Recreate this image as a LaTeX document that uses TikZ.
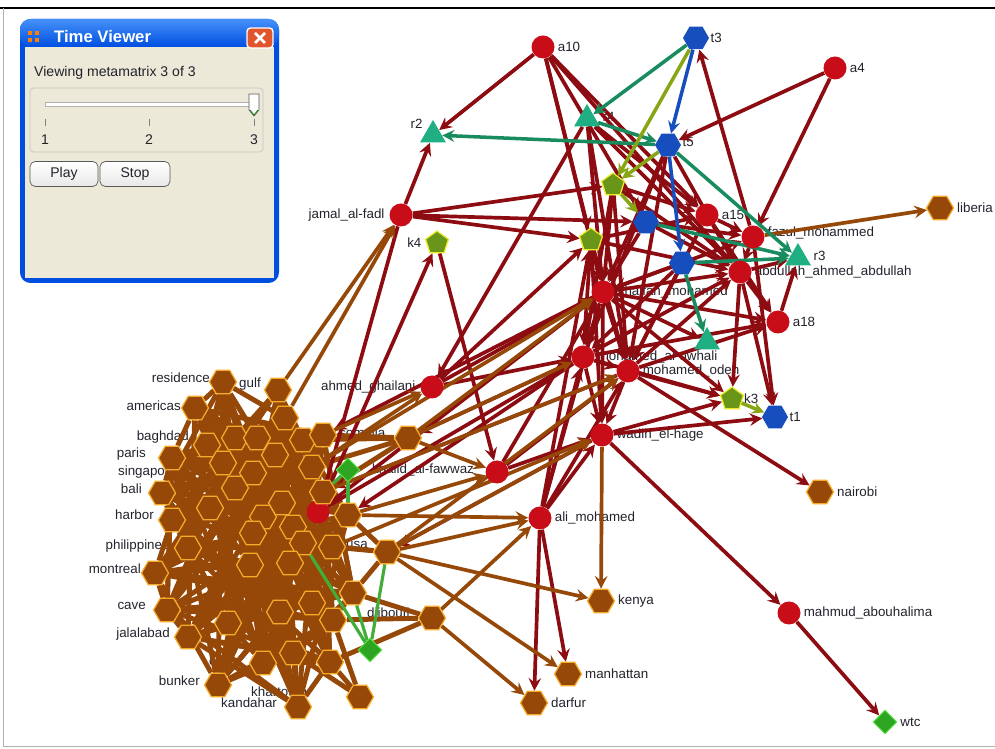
\documentclass[tikz,border=0pt]{standalone}
\usepackage{fontspec}
\setmainfont{Liberation Sans}
\usetikzlibrary{positioning, arrows.meta, shapes.geometric, calc, backgrounds}

\definecolor{agentred}{RGB}{200,12,24}
\definecolor{edgered}{RGB}{140,12,18}
\definecolor{placebrown}{RGB}{150,72,8}
\definecolor{placerim}{RGB}{245,170,40}
\definecolor{taskblue}{RGB}{22,78,190}
\definecolor{resteal}{RGB}{32,175,130}
\definecolor{restealline}{RGB}{25,140,95}
\definecolor{knowgreen}{RGB}{105,150,25}
\definecolor{knowrim}{RGB}{235,235,40}
\definecolor{knowline}{RGB}{135,165,20}
\definecolor{evgreen}{RGB}{45,165,35}
\definecolor{evrim}{RGB}{90,230,70}
\definecolor{inkgray}{RGB}{35,35,45}
\definecolor{xpblue}{RGB}{0,78,224}
\definecolor{xplight}{RGB}{70,145,250}
\definecolor{xpbeige}{RGB}{236,233,216}
\definecolor{closered}{RGB}{225,85,45}

\begin{document}
\begin{tikzpicture}[
    x=0.02cm, y=-0.02cm,
    agent/.style={circle, fill=agentred, minimum size=0.46cm, inner sep=0pt},
    place/.style={regular polygon, regular polygon sides=6, fill=placebrown, draw=placerim, line width=0.7pt, minimum size=0.54cm, inner sep=0pt},
    task/.style={regular polygon, regular polygon sides=6, fill=taskblue, minimum size=0.52cm, inner sep=0pt},
    resource/.style={regular polygon, regular polygon sides=3, fill=resteal, minimum size=0.6cm, inner sep=0pt},
    know/.style={regular polygon, regular polygon sides=5, fill=knowgreen, draw=knowrim, line width=0.7pt, minimum size=0.48cm, inner sep=0pt},
    event/.style={diamond, fill=evgreen, draw=evrim, line width=0.5pt, minimum size=0.48cm, inner sep=0pt},
    lbl/.style={font=\fontsize{7.6}{9}\selectfont, text=inkgray, inner sep=0.5pt},
    winfont/.style={font=\fontsize{8}{10}\selectfont, text=inkgray},
    rl/.style={->, >=stealth, draw=edgered, line width=2.1pt},
    bl/.style={->, >=stealth, draw=placebrown, line width=2.1pt},
    cl/.style={draw=placebrown, line width=2.8pt},
    gl/.style={->, >=stealth, draw=restealline, line width=2pt},
    ul/.style={->, >=stealth, draw=taskblue, line width=2pt},
    yl/.style={->, >=stealth, draw=knowline, line width=2pt},
    evl/.style={draw=evgreen!90!white, line width=1.8pt}
]
    \useasboundingbox (0,0) rectangle (995,749);

    % agents
    \node[agent] (a10) at (543,47) {};
    \node[agent] (a4) at (835,68) {};
    \node[agent] (jamal) at (401,215) {};
    \node[agent] (ahmed) at (432,387) {};
    \node[agent] (ag) at (497,472) {};
    \node[agent] (ali) at (540,518) {};
    \node[agent] (wadih) at (602,435) {};
    \node[agent] (mahmud) at (789,613) {};
    \node[agent] (h1) at (603,292) {};
    \node[agent] (h2) at (583,357) {};
    \node[agent] (h3) at (628,371) {};
    \node[agent] (h4) at (707,215) {};
    \node[agent] (h5) at (753,237) {};
    \node[agent] (h6) at (740,272) {};
    \node[agent] (h7) at (778,322) {};
    \node[agent] (cx) at (318,512) {};

    % tasks, resources, knowledge
    \node[task] (t3) at (696,38) {};
    \node[task] (t5) at (668,145) {};
    \node[task] (t2) at (646,222) {};
    \node[task] (t4) at (682,263) {};
    \node[task] (t1) at (775,417) {};
    \node[resource] (r2) at (433,135) {};
    \node[resource] (r4) at (587,119) {};
    \node[resource] (r3) at (798,258) {};
    \node[resource] (r1) at (707,342) {};
    \node[know] (k4) at (437,243) {};
    \node[know] (k1) at (613,185) {};
    \node[know] (k2) at (591,240) {};
    \node[know] (k3) at (732,399) {};

    % places
    \foreach \n/\x/\y in {1/223/382, 2/278/390, 3/195/408, 4/285/418, 5/235/438, 6/257/438,
        7/303/440, 8/323/435, 9/207/445, 10/275/455, 11/172/458, 12/223/463, 13/253/473,
        14/312/467, 15/235/488, 16/162/493, 17/323/492, 18/282/503, 19/210/508, 20/263/517,
        21/172/520, 22/293/527, 23/253/533, 24/188/548, 25/303/543, 26/332/547, 27/250/565,
        28/290/563, 29/155/573, 30/348/515, 31/353/593, 32/312/603, 33/280/612, 34/167/610,
        35/228/623, 36/333/620, 37/188/637, 38/263/663, 39/293/653, 40/330/662, 41/218/685,
        42/298/707, 43/408/438, 44/387/552, 45/432/618, 46/360/697}
        \node[place] (c\n) at (\x,\y) {};
    \node[place] (liberia) at (940,208) {};
    \node[place] (nairobi) at (820,492) {};
    \node[place] (kenya) at (601,601) {};
    \node[place] (manhattan) at (568,674) {};
    \node[place] (darfur) at (534,703) {};

    % events
    \node[event] (ev1) at (348,470) {};
    \node[event] (ev2) at (370,650) {};
    \node[event] (wtc) at (885,722) {};

    \begin{scope}[on background layer]
        \fill[white] (0,0) rectangle (995,749);

        % labels
        \node[lbl, right=1pt of a10] (a10-l) {a10};
        \node[lbl, right=1pt of a4] (a4-l) {a4};
        \node[lbl, left=2pt of jamal] (jamal-l) {jamal\_al-fadl};
        \node[lbl, left=2pt of ahmed] (ahmed-l) {ahmed\_ghailani};
        \node[lbl, right=1pt of ali] (ali-l) {ali\_mohamed};
        \node[lbl, right=1pt of wadih] (wadih-l) {wadih\_el-hage};
        \node[lbl, right=1pt of mahmud] (mahmud-l) {mahmud\_abouhalima};
        \node[lbl, right=1pt of h1] (h1-l) {khalfan\_mohamed};
        \node[lbl, right=1pt of h2] (h2-l) {mohamed\_al-owhali};
        \node[lbl, right=1pt of h3] (h3-l) {mohamed\_odeh};
        \node[lbl, right=1pt of h4] (h4-l) {a15};
        \node[lbl, right=1pt of h5, yshift=2pt] (h5-l) {fazul\_mohammed};
        \node[lbl, right=1pt of h6] (h6-l) {abdullah\_ahmed\_abdullah};
        \node[lbl, right=1pt of h7] (h7-l) {a18};
        \node[lbl, right=0pt of t3] (t3-l) {t3};
        \node[lbl, right=0pt of t5, yshift=2pt] (t5-l) {t5};
        \node[lbl, right=0pt of t1] (t1-l) {t1};
        \node[lbl, above left=0pt and 2pt of r2] (r2-l) {r2};
        \node[lbl, right=3pt of r4, yshift=1pt] (r4-l) {r4};
        \node[lbl, right=3pt of r3, yshift=1pt] (r3-l) {r3};
        \node[lbl, left=2pt of k4] (k4-l) {k4};
        \node[lbl, right=0pt of k3] (k3-l) {k3};
        \node[lbl, right=1pt of liberia] (liberia-l) {liberia};
        \node[lbl, right=1pt of nairobi] (nairobi-l) {nairobi};
        \node[lbl, right=1pt of kenya] (kenya-l) {kenya};
        \node[lbl, right=1pt of manhattan] (manhattan-l) {manhattan};
        \node[lbl, right=1pt of darfur] (darfur-l) {darfur};
        \node[lbl, right=1pt of wtc] (wtc-l) {wtc};
        \node[lbl, right=6pt of ev1] (ev1-l) {khalid\_al-fawwaz};
        \node[lbl, anchor=east] (residence-l) at (211,378) {residence};
        \node[lbl, anchor=west] (gulf-l) at (238,384) {gulf};
        \node[lbl, anchor=east] (americas-l) at (182,406) {americas};
        \node[lbl, anchor=east] (baghdad-l) at (190,437) {baghdad};
        \node[lbl, anchor=east] (paris-l) at (147,454) {paris};
        \node[lbl, anchor=east] (singapore-l) at (178,472) {singapore};
        \node[lbl, anchor=east] (bali-l) at (143,489) {bali};
        \node[lbl, anchor=east] (harbor-l) at (155,515) {harbor};
        \node[lbl, anchor=east] (philippines-l) at (170,546) {philippines};
        \node[lbl, anchor=east] (montreal-l) at (142,569) {montreal};
        \node[lbl, anchor=east] (cave-l) at (147,606) {cave};
        \node[lbl, anchor=east] (jalalabad-l) at (171,634) {jalalabad};
        \node[lbl, anchor=east] (bunker-l) at (201,681) {bunker};
        \node[lbl, anchor=west] (kandahar-l) at (220,703) {kandahar};
        \node[lbl, anchor=west] (khartoum-l) at (250,692) {khartoum};
        \node[lbl, anchor=west] (other-l) at (208,661) {other};
        \node[lbl, anchor=west] (usa-l) at (345,545) {usa};
        \node[lbl, anchor=west] (djibouti-l) at (366,614) {djibouti};
        \node[lbl, anchor=west] (somalia-l) at (338,433) {somalia};

        % the dense place cluster
        \foreach \i in {1,...,42}
            \foreach \k in {2,3,5,8,12,15,19,23} {
                \pgfmathtruncatemacro{\j}{mod(\i+\k-1,42)+1}
                \draw[cl] (c\i) -- (c\j);
            }
        \foreach \src/\dst in {43/7, 43/8, 43/14, 43/17, 44/25, 44/26, 44/30, 44/31,
            45/36, 45/40, 45/31, 46/40, 46/39, 46/36}
            \draw[cl] (c\src) -- (c\dst);

        % links between agents
        \foreach \src/\dst in {a10/r2, a10/k2, a10/t2, a10/h4, a10/h1, a10/h6, a4/t5, a4/h5, h5/t3,
            r4/h4, r4/h6, r4/h1, r4/h3, r4/ahmed, jamal/r2, jamal/k1, jamal/k2, jamal/t2, jamal/cx,
            cx/k4, k4/ag, cx/h1, cx/h2, ahmed/h1, ahmed/h2, ahmed/k2, ag/h1, ag/h3, ag/wadih,
            ali/h1, ali/h2, ali/k2, ali/wadih, ali/h3, ali/darfur, ali/manhattan,
            wadih/mahmud, mahmud/wtc, h3/nairobi, h3/k3, h2/k3, h6/k3, h6/t1, h5/t1, wadih/t1,
            h4/h5, h1/h5, h1/h6, h2/h6, h1/h7, h2/h7, h3/h7, h6/h7, h7/r3, h6/r3, h3/h6,
            t2/h5, k1/h4, k2/h4, k2/h6, k2/h2, k2/wadih, k1/h1, k1/h2, h1/h2, h1/h3,
            h2/wadih, h3/wadih, h1/wadih, t5/h1, t5/h2, t5/h3, t5/h6, h1/r1, t4/h2,
            h4/h6, h4/h3, k2/h3, k1/h6, k1/h3, k2/h1, t2/h6, t2/h1, t4/h1, t4/h3,
            h4/h7, h5/h6, h2/h3, h1/k3, wadih/k3, h2/c43, h1/c8, wadih/c44, h3/c17, h2/c30}
            \draw[rl] (\src) -- (\dst);

        % links to places
        \foreach \src/\dst in {c2/jamal, c4/jamal, c8/ahmed, c14/ahmed, c43/h2, c43/h1,
            c30/ali, c44/ali, c44/kenya, c44/manhattan, c45/darfur, c45/ali, c26/wadih,
            c17/h3, c43/ag, c30/ag, wadih/kenya, h5/liberia, c44/wadih, c14/h1, c44/h3}
            \draw[bl] (\src) -- (\dst);

        \foreach \src/\dst in {t3/r4, t5/r2, r4/t5, t5/r3, t2/r3, t4/r3, t4/r1}
            \draw[gl] (\src) -- (\dst);
        \foreach \src/\dst in {t3/t5, t5/t4}
            \draw[ul] (\src) -- (\dst);
        \foreach \src/\dst in {t3/k1, t5/k1, k1/t2, k3/t1}
            \draw[yl] (\src) -- (\dst);
        \foreach \src/\dst in {ev1/c30, ev1/c17, ev2/c44, ev2/c31, ev2/c25}
            \draw[evl] (\src) -- (\dst);
    \end{scope}

    % frame
    \draw[black, line width=1.3pt] (0,8) -- (995,8);
    \draw[gray!60] (3,8) -- (3,746) -- (995,746);

    % time viewer window
    \fill[xpblue, rounded corners=6pt] (20,19) rectangle (279,283);
    \shade[top color=xplight, bottom color=xpblue, rounded corners=6pt] (20,19) rectangle (279,47);
    \fill[xpbeige] (25,47) rectangle (274,278);
    \foreach \dx/\dy in {0/0, 7/0, 0/7, 7/7}
        \fill[orange] ($(28,31)+(\dx,\dy)$) rectangle ++(4,4);
    \node[anchor=west, text=white, font=\fontsize{9.5}{11}\bfseries\selectfont] (wtitle) at (48,37) {Time Viewer};
    \node[fill=closered, draw=white, line width=0.8pt, rounded corners=2pt, minimum width=0.52cm, minimum height=0.4cm] (wclose) at (260,38) {};
    \draw[white, line width=1.6pt] ($(wclose.center)+(-5,-5)$) -- ($(wclose.center)+(5,5)$);
    \draw[white, line width=1.6pt] ($(wclose.center)+(-5,5)$) -- ($(wclose.center)+(5,-5)$);
    \node[winfont, anchor=west] (wtext) at (28,73) {Viewing metamatrix 3 of 3};
    \draw[gray!45, rounded corners=2pt] (30,88) rectangle (263,152);
    \draw[gray!60, fill=white] (45,102) rectangle (253,106);
    \foreach \tx in {45,149,254}
        \draw[gray] (\tx,119) -- (\tx,126);
    \node[winfont] (n1) at (45,140) {1};
    \node[winfont] (n2) at (149,140) {2};
    \node[winfont] (n3) at (254,140) {3};
    \draw[gray!70!black, fill=white] (249,94) -- (259,94) -- (259,110) -- (254,116) -- (249,110) -- cycle;
    \draw[green!50!black] (250,110) -- (254,115) -- (258,110);
    \node[winfont, draw=gray!70!black, top color=white, bottom color=gray!18, rounded corners=3pt, minimum width=1.36cm, minimum height=0.5cm] (play) at (64,174) {Play};
    \node[winfont, draw=gray!70!black, top color=white, bottom color=gray!18, rounded corners=3pt, minimum width=1.4cm, minimum height=0.5cm] (stop) at (135,174) {Stop};
\end{tikzpicture}
\end{document}
